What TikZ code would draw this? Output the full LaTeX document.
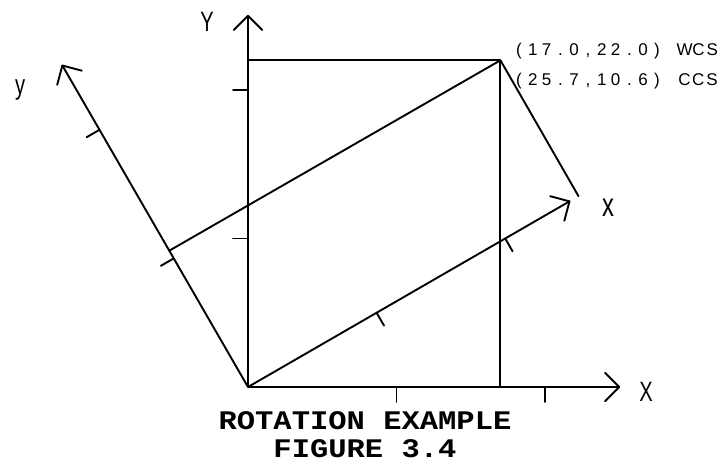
\documentclass[tikz,border=0pt]{standalone}
\usepackage{fontspec}
\setmainfont{Liberation Sans}
\newfontfamily\titlefont{Liberation Mono}
\def\spaced#1{\spacedloop#1\relax}
\def\spacedloop#1{\ifx\relax#1\else\makebox[13.8pt]{#1}\expandafter\spacedloop\fi}
\newcommand\narrowtext[1]{\scalebox{0.72}[1]{#1}}
\newcommand\flattext[1]{\scalebox{1}[0.88]{#1}}
\begin{document}
\begin{tikzpicture}[x=14.85pt,y=14.85pt,line width=1.9pt,line cap=round,line join=round,
  axlabel/.style={inner sep=0pt,font=\fontsize{28}{28}\selectfont},
  coordtext/.style={inner sep=0pt,anchor=west,font=\fontsize{17}{17}\selectfont},
  titletext/.style={inner sep=0pt,font=\titlefont\bfseries\fontsize{30.5}{31}\selectfont}]
\useasboundingbox (-16.700,-5.118) rectangle (32.189,26.061);
\coordinate (O) at (0,0);
\coordinate (P) at (17,22);
\coordinate (Xtip) at (25,0);
\coordinate (Ytip) at (0,25);
\coordinate (xtip) at (30:25);
\coordinate (ytip) at (120:25);
\coordinate (Px) at (30:25.7);
\coordinate (Py) at (120:10.6);
\coordinate (PX) at (17,0);
\coordinate (PY) at (0,22);
% axes
\draw (O) -- (Xtip) (O) -- (Ytip) (O) -- (xtip) (O) -- (ytip);
% arrowheads
\draw (Xtip) -- ++(135:1.35) (Xtip) -- ++(225:1.35);
\draw (Ytip) -- ++(225:1.35) (Ytip) -- ++(315:1.35);
\draw (xtip) -- ++(165:1.35) (xtip) -- ++(255:1.35);
\draw (ytip) -- ++(255:1.35) (ytip) -- ++(345:1.35);
% ticks
\draw (10,0) -- (10,-1) (20,0) -- (20,-1);
\draw (0,10) -- (-1,10) (0,20) -- (-1,20);
\draw (30:10) -- ++(-60:1) (30:20) -- ++(-60:1);
\draw (120:10) -- ++(210:1) (120:20) -- ++(210:1);
% construction lines
\draw (PY) -- (P) -- (PX);
\draw (Py) -- (P) -- (Px);
% labels
\node[axlabel] (lblY) at (-2.76,24.58) {\narrowtext{Y}};
\node[axlabel] (lbly) at (-15.35,20.0) {\narrowtext{y}};
\node[axlabel] (lblX) at (26.80,-0.34) {\narrowtext{X}};
\node[axlabel,font=\fontsize{33}{33}\selectfont] (lblx) at (24.24,12.05) {\narrowtext{x}};
\node[coordtext] (wcs) at (17.72,22.60) {\spaced{(17.0,22.0)~WCS}};
\node[coordtext] (ccs) at (17.72,20.62) {\spaced{(25.7,10.6)~CCS}};
\node[titletext] (title1) at (7.88,-2.25) {\flattext{ROTATION EXAMPLE}};
\node[titletext] (title2) at (7.88,-4.15) {\flattext{FIGURE 3.4}};
\end{tikzpicture}
\end{document}
